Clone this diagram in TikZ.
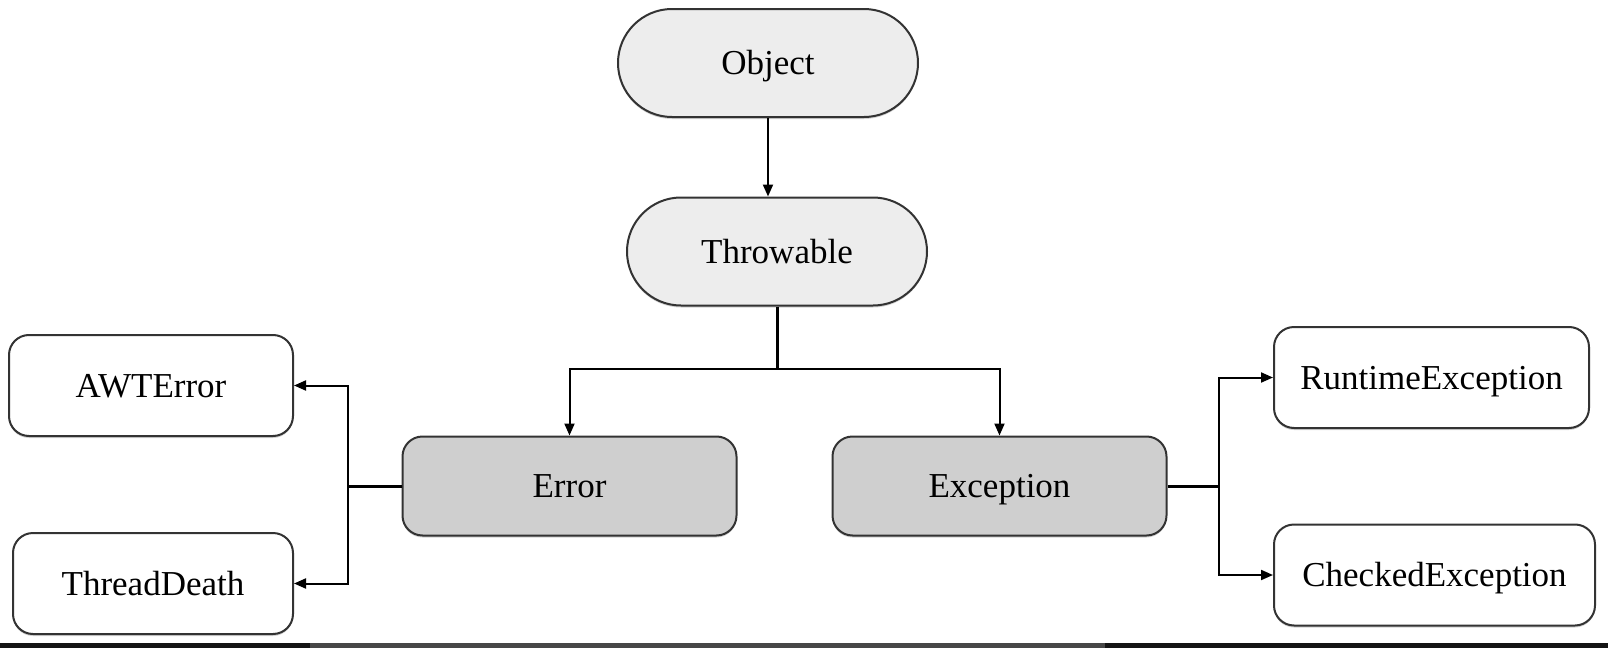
\documentclass[tikz,border=0pt]{standalone}
\usepackage{fontspec}
\setmainfont{Liberation Serif}
\usetikzlibrary{arrows.meta,shadows}

\begin{document}
\begin{tikzpicture}[x=0.5pt,y=-0.5pt,
    font=\fontsize{17.5}{21}\selectfont,
    box/.style={draw=black!80,line width=1pt,rounded corners=10pt,inner sep=0pt,minimum height=50.5pt,fill=white,
        text height=11.6pt,text depth=0pt,
        drop shadow={shadow xshift=0pt,shadow yshift=-1pt,opacity=.35}},
    pill/.style={box,rounded corners=27pt,minimum height=54pt,minimum width=150pt,fill=black!7},
    mid/.style={box,minimum height=49.5pt,minimum width=167pt,fill=black!19},
    link/.style={line width=1pt,-{Triangle[length=6pt,width=5pt]}},
    stub/.style={line width=1.5pt}]
            \useasboundingbox (0,0) rectangle (1608,648);
            \fill[black!92] (0,643) rectangle (1608,648);
            \fill[black!72] (310,643) rectangle (1105,648);

            \node (obj) at (768,63) [pill] {Object};
            \node (thr) at (777,251.5) [pill] {Throwable};
            \node (err) at (569.5,486) [mid] {Error};
            \node (exc) at (999.5,486) [mid] {Exception};
            \node (awt) at (151,385.5) [box,minimum width=142pt] {AWTError};
            \node (td) at (153,583.5) [box,minimum width=140pt] {ThreadDeath};
            \node (rte) at (1431.5,377.5) [box,minimum width=157.5pt] {RuntimeException};
            \node (ce) at (1434.5,575) [box,minimum width=160.5pt] {CheckedException};

            \coordinate (tj) at (777,369);
            \coordinate (el) at (348,486);
            \coordinate (xr) at (1219,486);

            \draw[link] (obj.south) -- (obj.south |- thr.north);
            \draw[stub] (thr.south) -- (tj);
            \draw[link] (tj) -| (err);
            \draw[link] (tj) -| (exc);
            \draw[stub] (err) -- (el);
            \draw[link] (el) |- (awt);
            \draw[link] (el) |- (td);
            \draw[stub] (exc) -- (xr);
            \draw[link] (xr) |- (rte);
            \draw[link] (xr) |- (ce);

        \end{tikzpicture}
\end{document}
